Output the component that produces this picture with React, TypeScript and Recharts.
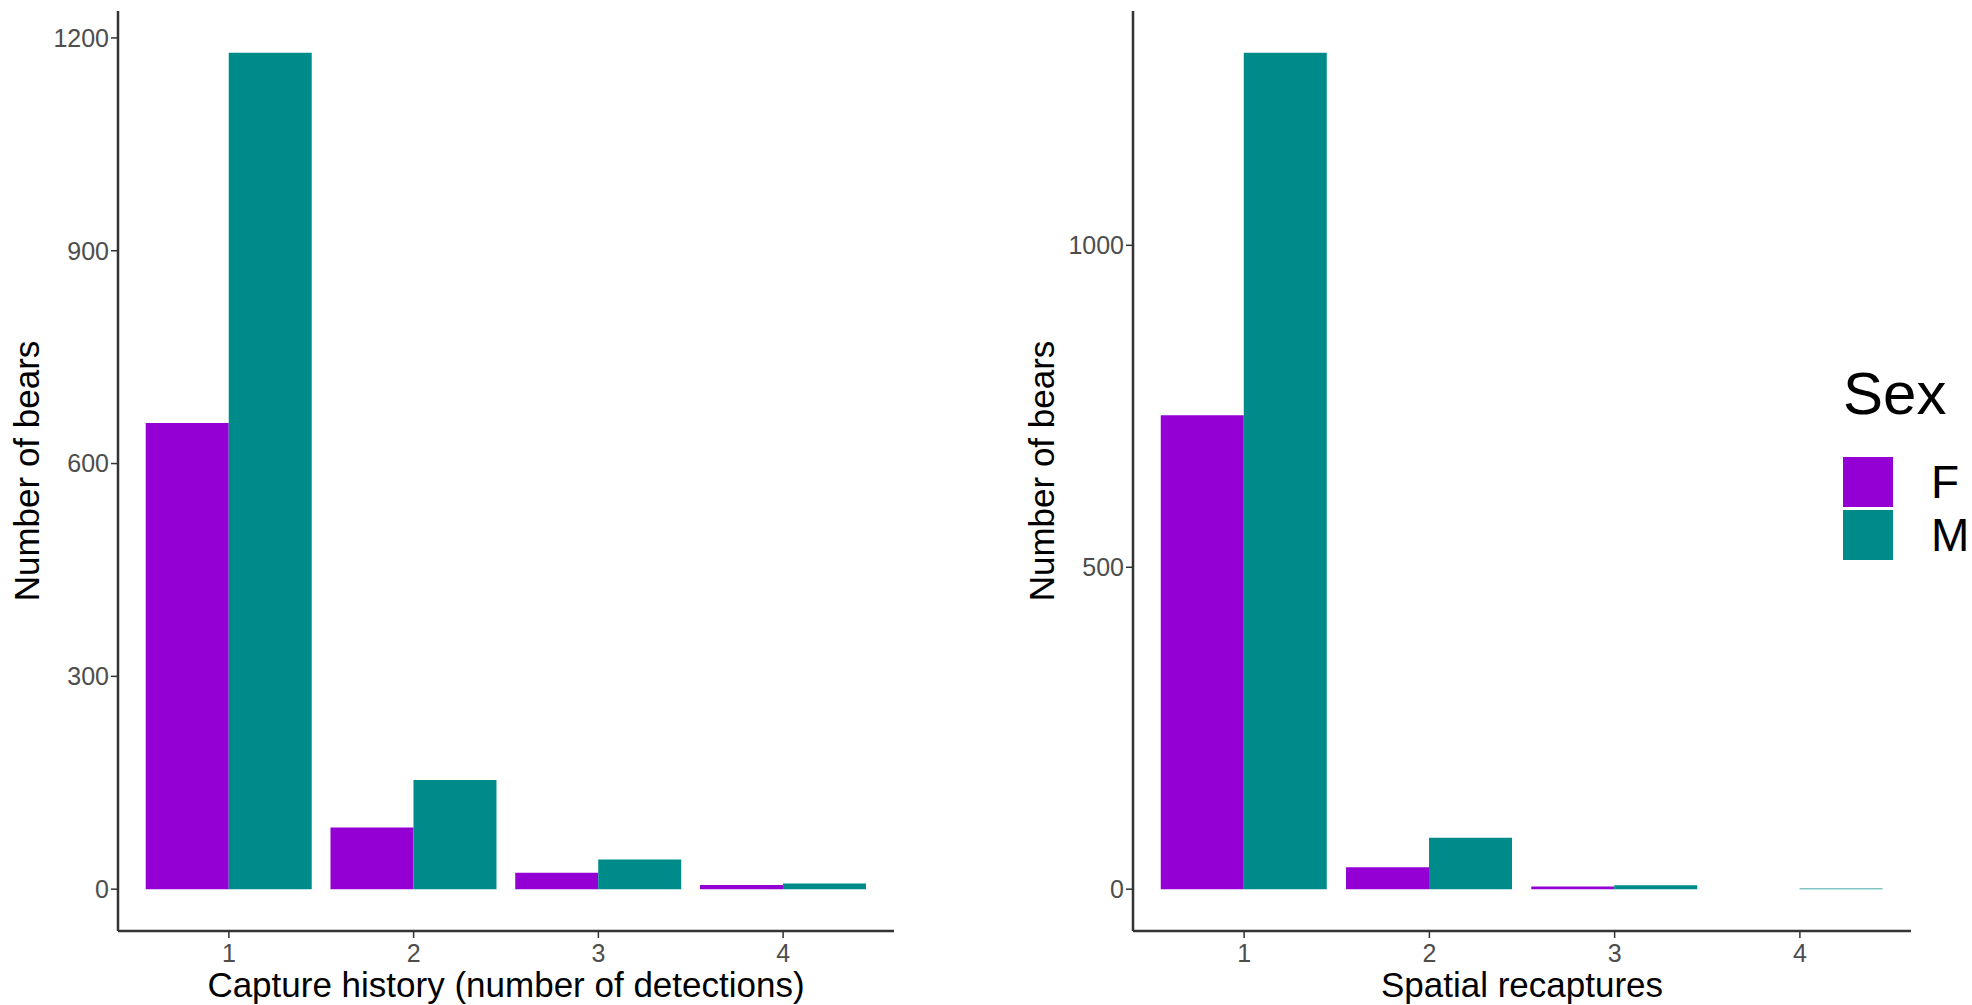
import { BarChart, Bar, XAxis, YAxis, Label } from "recharts"

const categories = ["1", "2", "3", "4"]
const captureF = [657, 87, 23, 6]
const captureM = [1179, 154, 42, 8]
const spatialF = [736, 34, 4, 0]
const spatialM = [1299, 80, 6, 1]
const captureTicks = [0, 300, 600, 900, 1200]
const spatialTicks = [0, 500, 1000]
const sexLevels = ["F", "M"]
const sexColors = ["#9400D3", "#008B8B"]

const font = "'Liberation Sans', Arial, sans-serif"

const captureData = categories.map((c, i) => ({ cat: c, F: captureF[i], M: captureM[i] }))
const spatialData = categories.map((c, i) => ({ cat: c, F: spatialF[i], M: spatialM[i] }))

// ggplot-like 5% expansion on the y scale
const expand = (max: number): [number, number] => [-max * 0.05, max * 1.05]

type PanelProps = {
  data: { cat: string; F: number; M: number }[]
  ticks: number[]
  max: number
  xTitle: string
  left: number
  width: number
  yAxisWidth: number
  marginRight: number
  yTitleOffset: number
}

function Panel({ data, ticks, max, xTitle, left, width, yAxisWidth, marginRight, yTitleOffset }: PanelProps) {
  return (
    <div style={{ position: "absolute", left, top: 0 }}>
      <BarChart
        width={width}
        height={1005}
        data={data}
        margin={{ top: 11, right: marginRight, left: 8, bottom: 0 }}
        barCategoryGap="5%"
        barGap={0}
      >
        <XAxis
          dataKey="cat"
          height={74}
          padding={{ left: 18.5, right: 18.5 }}
          tickSize={7}
          tickMargin={6}
          axisLine={{ stroke: "#333", strokeWidth: 2.5 }}
          tickLine={{ stroke: "#333", strokeWidth: 1.5 }}
          tick={{ fill: "#4D4D4D", fontSize: 25, fontFamily: font }}
        >
          <Label
            value={xTitle}
            position="insideBottom"
            offset={8}
            style={{ fill: "#000", fontSize: 35, fontFamily: font }}
          />
        </XAxis>
        <YAxis
          width={yAxisWidth}
          domain={expand(max)}
          ticks={ticks}
          allowDataOverflow
          tickSize={7}
          tickMargin={2}
          axisLine={{ stroke: "#333", strokeWidth: 2.5 }}
          tickLine={{ stroke: "#333", strokeWidth: 1.5 }}
          tick={{ fill: "#4D4D4D", fontSize: 25, fontFamily: font }}
        >
          <Label
            value="Number of bears"
            angle={-90}
            position="insideLeft"
            offset={yTitleOffset}
            style={{ fill: "#000", fontSize: 35, fontFamily: font, textAnchor: "middle" }}
          />
        </YAxis>
        {sexLevels.map((s, i) => (
          <Bar key={s} dataKey={s} fill={sexColors[i]} isAnimationActive={false} />
        ))}
      </BarChart>
    </div>
  )
}

export default function App() {
  return (
    <div style={{ position: "absolute", left: 0, top: 0, width: 1972, height: 1005, background: "#fff", fontFamily: font }}>
      <Panel
        data={captureData}
        ticks={captureTicks}
        max={1179}
        xTitle="Capture history (number of detections)"
        left={0}
        width={900}
        yAxisWidth={110}
        marginRight={6}
        yTitleOffset={19}
      />
      <Panel
        data={spatialData}
        ticks={spatialTicks}
        max={1299}
        xTitle="Spatial recaptures"
        left={1010}
        width={910}
        yAxisWidth={115}
        marginRight={9}
        yTitleOffset={24}
      />
      <div style={{ position: "absolute", left: 1843, top: 360 }}>
        <div style={{ fontSize: 60, lineHeight: "68px", color: "#000" }}>Sex</div>
        <div style={{ marginTop: 27 }}>
          {sexLevels.map((s, i) => (
            <div key={s} style={{ display: "flex", alignItems: "center", height: 53 }}>
              <div style={{ width: 50, height: 50, background: sexColors[i] }} />
              <span style={{ marginLeft: 38, fontSize: 46, color: "#000" }}>{s}</span>
            </div>
          ))}
        </div>
      </div>
    </div>
  )
}
